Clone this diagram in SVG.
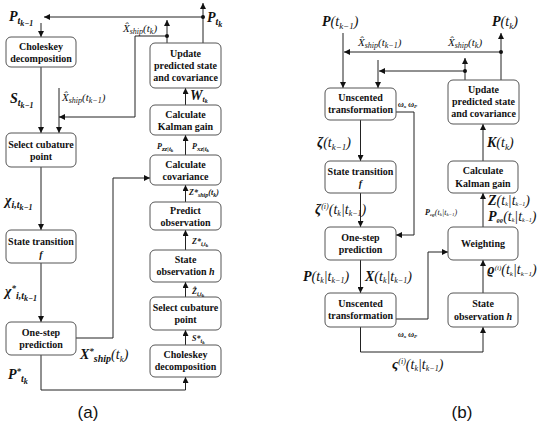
<svg xmlns="http://www.w3.org/2000/svg" width="550" height="424" viewBox="0 0 550 424">
<defs>
<marker id="ah" viewBox="0 0 10 10" refX="10" refY="5" markerWidth="6" markerHeight="6" orient="auto" markerUnits="userSpaceOnUse">
<path d="M0,0 L10,5 L0,10 z" fill="#111"/>
</marker>
<style>
.box{fill:#fff;stroke:#555;stroke-width:1}
.bt{font-family:"Liberation Serif","DejaVu Serif",serif;font-weight:bold;font-size:10px;text-anchor:middle;fill:#111}
.ln{fill:none;stroke:#222;stroke-width:1}
.ar{fill:none;stroke:#222;stroke-width:1;marker-end:url(#ah)}
.m{font-family:"Liberation Serif","DejaVu Serif",serif;font-style:italic;font-weight:bold;font-size:14px;fill:#111}
.s{font-family:"Liberation Serif","DejaVu Serif",serif;font-style:italic;font-size:11px;fill:#111}
.t{font-family:"Liberation Serif","DejaVu Serif",serif;font-style:italic;font-weight:bold;font-size:8px;fill:#111}
.cap{font-family:"Liberation Sans",sans-serif;font-size:17px;text-anchor:middle;fill:#111}
.dot{fill:#111}
</style>
</defs>

<g id="connectors">
<!-- panel a -->
<path class="ar" d="M41,23 V37"/>
<path class="ar" d="M41,67 V133"/>
<path class="ar" d="M59,88 V133"/>
<path class="ar" d="M167,36 H135 V117 H59"/>
<path class="ar" d="M203,43 V3"/>
<path class="ar" d="M203,17 H44"/>
<path class="ar" d="M167,43 V20"/>
<path class="ar" d="M185.5,105 V88"/>
<path class="ar" d="M185.5,155 V135"/>
<path class="ar" d="M185.5,202 V185"/>
<path class="ar" d="M185.5,250 V230"/>
<path class="ar" d="M185.5,297 V282"/>
<path class="ar" d="M185.5,345 V330"/>
<path class="ar" d="M41,167 V230"/>
<path class="ar" d="M41,263 V322"/>
<path class="ar" d="M76,338 H113 V178 H150"/>
<path class="ar" d="M41,355 V390 H185.5 V377"/>
<circle class="dot" cx="203" cy="17" r="2"/>
<circle class="dot" cx="167" cy="36" r="2"/>
<!-- panel b -->
<path class="ar" d="M343,33 V88"/>
<path class="ar" d="M501,52 H344"/>
<path class="ar" d="M378,60 V88"/>
<path class="ar" d="M465,71 H379"/>
<path class="ar" d="M501,80 V33"/>
<path class="ar" d="M465,80 V58"/>
<path class="ar" d="M396,112 H414 V235 H396"/>
<path class="ar" d="M360.5,120 V161"/>
<path class="ar" d="M360.5,193 V227"/>
<path class="ar" d="M360.5,260 V293"/>
<path class="ar" d="M396,319 H428 V252 H448"/>
<path class="ar" d="M360.5,327 V352 H483 V327"/>
<path class="ar" d="M483,293 V260"/>
<path class="ar" d="M483,227 V193"/>
<path class="ar" d="M483,161 V124"/>
<circle class="dot" cx="501" cy="52" r="2"/>
<circle class="dot" cx="465" cy="71" r="2"/>
</g>

<!-- Panel (a) nodes -->
<g id="a_chol1"><rect class="box" x="6" y="37" width="70" height="30" rx="5"/><text class="bt" x="41" y="50">Choleskey</text><text class="bt" x="41" y="62">decomposition</text></g>
<g id="a_sel1"><rect class="box" x="6" y="133" width="70" height="34" rx="5"/><text class="bt" x="41" y="148">Select cubature</text><text class="bt" x="41" y="160">point</text></g>
<g id="a_st1"><rect class="box" x="6" y="230" width="70" height="33" rx="5"/><text class="bt" x="41" y="245">State transition</text><text class="bt" x="41" y="258" font-style="italic">f</text></g>
<g id="a_os"><rect class="box" x="6" y="322" width="70" height="33" rx="5"/><text class="bt" x="41" y="336">One-step</text><text class="bt" x="41" y="348">prediction</text></g>
<g id="a_upd"><rect class="box" x="150" y="43" width="71" height="45" rx="5"/><text class="bt" x="185.5" y="57">Update</text><text class="bt" x="185.5" y="69">predicted state</text><text class="bt" x="185.5" y="81">and covariance</text></g>
<g id="a_kal"><rect class="box" x="150" y="105" width="71" height="30" rx="5"/><text class="bt" x="185.5" y="118">Calculate</text><text class="bt" x="185.5" y="130">Kalman gain</text></g>
<g id="a_cov"><rect class="box" x="150" y="155" width="71" height="30" rx="5"/><text class="bt" x="185.5" y="168">Calculate</text><text class="bt" x="185.5" y="180">covariance</text></g>
<g id="a_pred"><rect class="box" x="150" y="202" width="71" height="28" rx="5"/><text class="bt" x="185.5" y="214">Predict</text><text class="bt" x="185.5" y="226">observation</text></g>
<g id="a_sobs"><rect class="box" x="150" y="250" width="71" height="32" rx="5"/><text class="bt" x="185.5" y="263">State</text><text class="bt" x="185.5" y="275">observation <tspan font-style="italic">h</tspan></text></g>
<g id="a_sel2"><rect class="box" x="150" y="297" width="71" height="33" rx="5"/><text class="bt" x="185.5" y="311">Select cubature</text><text class="bt" x="185.5" y="323">point</text></g>
<g id="a_chol2"><rect class="box" x="150" y="345" width="71" height="32" rx="5"/><text class="bt" x="185.5" y="358">Choleskey</text><text class="bt" x="185.5" y="370">decomposition</text></g>

<!-- Panel (b) nodes -->
<g id="b_ut1"><rect class="box" x="325" y="88" width="71" height="32" rx="5"/><text class="bt" x="360.5" y="101">Unscented</text><text class="bt" x="360.5" y="113">transformation</text></g>
<g id="b_st"><rect class="box" x="325" y="161" width="71" height="32" rx="5"/><text class="bt" x="360.5" y="175">State transition</text><text class="bt" x="360.5" y="187" font-style="italic">f</text></g>
<g id="b_os"><rect class="box" x="325" y="227" width="71" height="33" rx="5"/><text class="bt" x="360.5" y="241">One-step</text><text class="bt" x="360.5" y="253">prediction</text></g>
<g id="b_ut2"><rect class="box" x="325" y="293" width="71" height="34" rx="5"/><text class="bt" x="360.5" y="307">Unscented</text><text class="bt" x="360.5" y="319">transformation</text></g>
<g id="b_upd"><rect class="box" x="448" y="80" width="71" height="44" rx="5"/><text class="bt" x="483.5" y="93">Update</text><text class="bt" x="483.5" y="105">predicted state</text><text class="bt" x="483.5" y="117">and covariance</text></g>
<g id="b_kal"><rect class="box" x="448" y="161" width="70" height="32" rx="5"/><text class="bt" x="483" y="174">Calculate</text><text class="bt" x="483" y="187">Kalman gain</text></g>
<g id="b_w"><rect class="box" x="448" y="227" width="70" height="33" rx="5"/><text class="bt" x="483" y="247">Weighting</text></g>
<g id="b_sobs"><rect class="box" x="448" y="293" width="70" height="34" rx="5"/><text class="bt" x="483" y="307">State</text><text class="bt" x="483" y="320">observation <tspan font-style="italic">h</tspan></text></g>

<g id="labels">
<!-- panel a -->
<text class="m" x="9" y="21">P<tspan font-size="10" dy="3">t</tspan><tspan font-size="8" dy="2">k−1</tspan></text>
<text class="s" x="123" y="32">X̂<tspan font-size="8" dy="2">ship</tspan><tspan dy="-2">(t</tspan><tspan font-size="8" dy="2">k</tspan><tspan dy="-2">)</tspan></text>
<text class="m" x="207" y="22">P<tspan font-size="10" dy="3">t</tspan><tspan font-size="8" dy="2">k</tspan></text>
<text class="m" x="10" y="103">S<tspan font-size="10" dy="3">t</tspan><tspan font-size="8" dy="2">k−1</tspan></text>
<text class="s" x="62" y="101">X̂<tspan font-size="8" dy="2">ship</tspan><tspan dy="-2">(t</tspan><tspan font-size="8" dy="2">k−1</tspan><tspan dy="-2">)</tspan></text>
<text class="m" x="190" y="100" font-size="11">W<tspan font-size="8" dy="2">t</tspan><tspan font-size="6" dy="1">k</tspan></text>
<text class="t" x="157" y="149" font-size="9">P<tspan font-size="7" dy="2">zz|t</tspan><tspan font-size="5" dy="1">k</tspan></text>
<text class="t" x="192" y="149" font-size="9">P<tspan font-size="7" dy="2">xz|t</tspan><tspan font-size="5" dy="1">k</tspan></text>
<text class="t" x="189" y="195">Z*<tspan font-size="6" dy="2">ship</tspan><tspan dy="-2">(t</tspan><tspan font-size="6" dy="2">k</tspan><tspan dy="-2">)</tspan></text>
<text class="t" x="192" y="244">Z*<tspan font-size="6" dy="2">i,t</tspan><tspan font-size="5" dy="1">k</tspan></text>
<text class="t" x="192" y="294">Ẑ<tspan font-size="6" dy="2">i,t</tspan><tspan font-size="5" dy="1">k</tspan></text>
<text class="t" x="192" y="341">S*<tspan font-size="6" dy="2">t</tspan><tspan font-size="5" dy="1">k</tspan></text>
<text class="m" x="5" y="205">χ<tspan font-size="10" dy="3">i,t</tspan><tspan font-size="8" dy="2">k−1</tspan></text>
<text class="m" x="5" y="296">χ<tspan font-size="9" dy="-5">*</tspan><tspan font-size="10" dy="8">i,t</tspan><tspan font-size="8" dy="2">k−1</tspan></text>
<text class="m" x="80" y="359">X<tspan font-size="9" dy="-5">*</tspan><tspan font-size="10" dy="8">ship</tspan><tspan dy="-3" font-weight="normal">(t</tspan><tspan font-size="9" dy="3" font-weight="normal">k</tspan><tspan dy="-3" font-weight="normal">)</tspan></text>
<text class="m" x="8" y="379">P<tspan font-size="9" dy="-5">*</tspan><tspan font-size="10" dy="8">t</tspan><tspan font-size="8" dy="2">k</tspan></text>
<text class="cap" x="88" y="418">(a)</text>
<!-- panel b -->
<text class="m" x="322" y="26">P<tspan font-weight="normal">(t</tspan><tspan font-size="9" dy="3" font-weight="normal">k−1</tspan><tspan dy="-3" font-weight="normal">)</tspan></text>
<text class="s" x="358" y="46" font-size="12">X̂<tspan font-size="8" dy="2">ship</tspan><tspan dy="-2">(t</tspan><tspan font-size="8" dy="2">k−1</tspan><tspan dy="-2">)</tspan></text>
<text class="s" x="448" y="46" font-size="12">X̂<tspan font-size="8" dy="2">ship</tspan><tspan dy="-2">(t</tspan><tspan font-size="8" dy="2">k</tspan><tspan dy="-2">)</tspan></text>
<text class="m" x="492" y="26">P<tspan font-weight="normal">(t</tspan><tspan font-size="9" dy="3" font-weight="normal">k</tspan><tspan dy="-3" font-weight="normal">)</tspan></text>
<text class="t" x="398" y="107">ω<tspan font-size="5" dy="1">x</tspan><tspan dy="-1"> ω</tspan><tspan font-size="5" dy="1">P</tspan></text>
<text class="t" x="398" y="337">ω<tspan font-size="5" dy="1">x</tspan><tspan dy="-1"> ω</tspan><tspan font-size="5" dy="1">P</tspan></text>
<text class="m" x="317" y="147">ζ<tspan font-weight="normal">(t</tspan><tspan font-size="9" dy="3" font-weight="normal">k−1</tspan><tspan dy="-3" font-weight="normal">)</tspan></text>
<text class="m" x="315" y="214" font-size="12">ζ<tspan font-size="8" dy="-5" font-weight="normal">(i)</tspan><tspan font-weight="normal" dy="5">(t</tspan><tspan font-size="8" dy="2" font-weight="normal">k</tspan><tspan dy="-2" font-weight="normal">|t</tspan><tspan font-size="8" dy="2" font-weight="normal">k−1</tspan><tspan dy="-2" font-weight="normal">)</tspan></text>
<text class="m" x="303" y="281" font-size="12">P<tspan font-weight="normal">(t</tspan><tspan font-size="8" dy="2" font-weight="normal">k</tspan><tspan dy="-2" font-weight="normal">|t</tspan><tspan font-size="8" dy="2" font-weight="normal">k−1</tspan><tspan dy="-2" font-weight="normal">)</tspan></text>
<text class="m" x="365" y="281" font-size="12">X<tspan font-weight="normal">(t</tspan><tspan font-size="8" dy="2" font-weight="normal">k</tspan><tspan dy="-2" font-weight="normal">|t</tspan><tspan font-size="8" dy="2" font-weight="normal">k−1</tspan><tspan dy="-2" font-weight="normal">)</tspan></text>
<text class="m" x="392" y="369" font-size="12">ς<tspan font-size="8" dy="-5" font-weight="normal">(i)</tspan><tspan font-weight="normal" dy="5">(t</tspan><tspan font-size="8" dy="2" font-weight="normal">k</tspan><tspan dy="-2" font-weight="normal">|t</tspan><tspan font-size="8" dy="2" font-weight="normal">k−1</tspan><tspan dy="-2" font-weight="normal">)</tspan></text>
<text class="m" x="487" y="274" font-size="11">ϱ<tspan font-size="7" dy="-4" font-weight="normal">(i)</tspan><tspan font-weight="normal" dy="4">(t</tspan><tspan font-size="7" dy="2" font-weight="normal">k</tspan><tspan dy="-2" font-weight="normal">|t</tspan><tspan font-size="7" dy="2" font-weight="normal">k−1</tspan><tspan dy="-2" font-weight="normal">)</tspan></text>
<text class="m" x="487" y="147">K<tspan font-weight="normal">(t</tspan><tspan font-size="9" dy="3" font-weight="normal">k</tspan><tspan dy="-3" font-weight="normal">)</tspan></text>
<text class="m" x="488" y="205" font-size="10">Z<tspan font-weight="normal">(t</tspan><tspan font-size="6" dy="1" font-weight="normal">k</tspan><tspan dy="-1" font-weight="normal">|t</tspan><tspan font-size="6" dy="1" font-weight="normal">k−1</tspan><tspan dy="-1" font-weight="normal">)</tspan></text>
<text class="m" x="488" y="221" font-size="10">P<tspan font-size="6" dy="1">ϱϱ</tspan><tspan font-weight="normal" dy="-1">(t</tspan><tspan font-size="6" dy="1" font-weight="normal">k</tspan><tspan dy="-1" font-weight="normal">|t</tspan><tspan font-size="6" dy="1" font-weight="normal">k−1</tspan><tspan dy="-1" font-weight="normal">)</tspan></text>
<text class="t" x="425" y="215">P<tspan font-size="5" dy="1">cϱ</tspan><tspan font-weight="normal" dy="-1">(t</tspan><tspan font-size="5" dy="1" font-weight="normal">k</tspan><tspan dy="-1" font-weight="normal">|t</tspan><tspan font-size="5" dy="1" font-weight="normal">k−1</tspan><tspan dy="-1" font-weight="normal">)</tspan></text>
<text class="cap" x="462" y="418">(b)</text>
</g>
</svg>
